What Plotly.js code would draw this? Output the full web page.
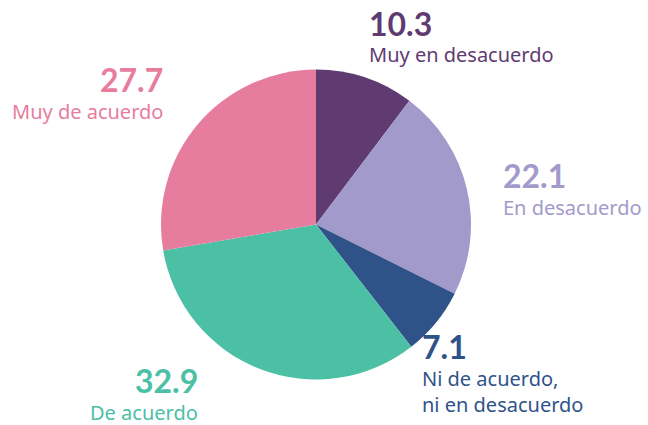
<!DOCTYPE html>
<html><head><meta charset="utf-8">
<script src="https://cdn.plot.ly/plotly-3.0.1.min.js"></script>
<style>html,body{margin:0;padding:0;background:#fff}#chart{width:648px;height:425px}</style>
</head><body><div id="chart"></div>
<script>
const categories = ["Muy en desacuerdo", "En desacuerdo", "Ni de acuerdo, ni en desacuerdo", "De acuerdo", "Muy de acuerdo"];
const labelLines = [["Muy en desacuerdo"], ["En desacuerdo"], ["Ni de acuerdo,", "ni en desacuerdo"], ["De acuerdo"], ["Muy de acuerdo"]];
const values = [10.3, 22.1, 7.1, 32.9, 27.7];
const colors = ["#5f3b72", "#a29acb", "#2f5389", "#4bc0a5", "#e77d9e"];

// label placement (paper px): [x, number baseline, first label baseline, anchor]
const place = [
  [368, 37, 62, "left"],
  [502, 189, 214, "left"],
  [421, 360, 385, "left"],
  [199, 394, 419, "right"],
  [164, 93, 118, "right"]
];
const LINE = 26;
const W = 648, H = 425;
const annotations = [];
values.forEach((v, i) => {
  const p = place[i];
  annotations.push({
    xref: "paper", yref: "paper", x: p[0] / W, y: 1 - (p[1] - 13.5) / H,
    xanchor: p[3], yanchor: "middle", showarrow: false, borderpad: 0,
    text: "<b>" + v.toFixed(1) + "</b>",
    font: {family: "Lato, Noto Sans, sans-serif", size: 32, color: colors[i]}
  });
  labelLines[i].forEach((line, k) => {
    annotations.push({
      xref: "paper", yref: "paper", x: p[0] / W, y: 1 - (p[2] + k * LINE - 7) / H,
      xanchor: p[3], yanchor: "middle", showarrow: false, borderpad: 0,
      text: line,
      font: {family: "Noto Sans, sans-serif", size: 20, color: colors[i]}
    });
  });
});

Plotly.newPlot("chart", [{
  type: "pie",
  labels: categories,
  values: values,
  sort: false,
  direction: "clockwise",
  rotation: 0,
  marker: {colors: colors, line: {width: 0}},
  textinfo: "none",
  hoverinfo: "label+value",
  domain: {x: [161 / W, 471 / W], y: [1 - 380 / H, 1 - 69 / H]}
}], {
  width: W, height: H,
  margin: {l: 0, r: 0, t: 0, b: 0},
  showlegend: false,
  paper_bgcolor: "#fff",
  annotations: annotations
}, {displayModeBar: false, staticPlot: true});
</script></body></html>
